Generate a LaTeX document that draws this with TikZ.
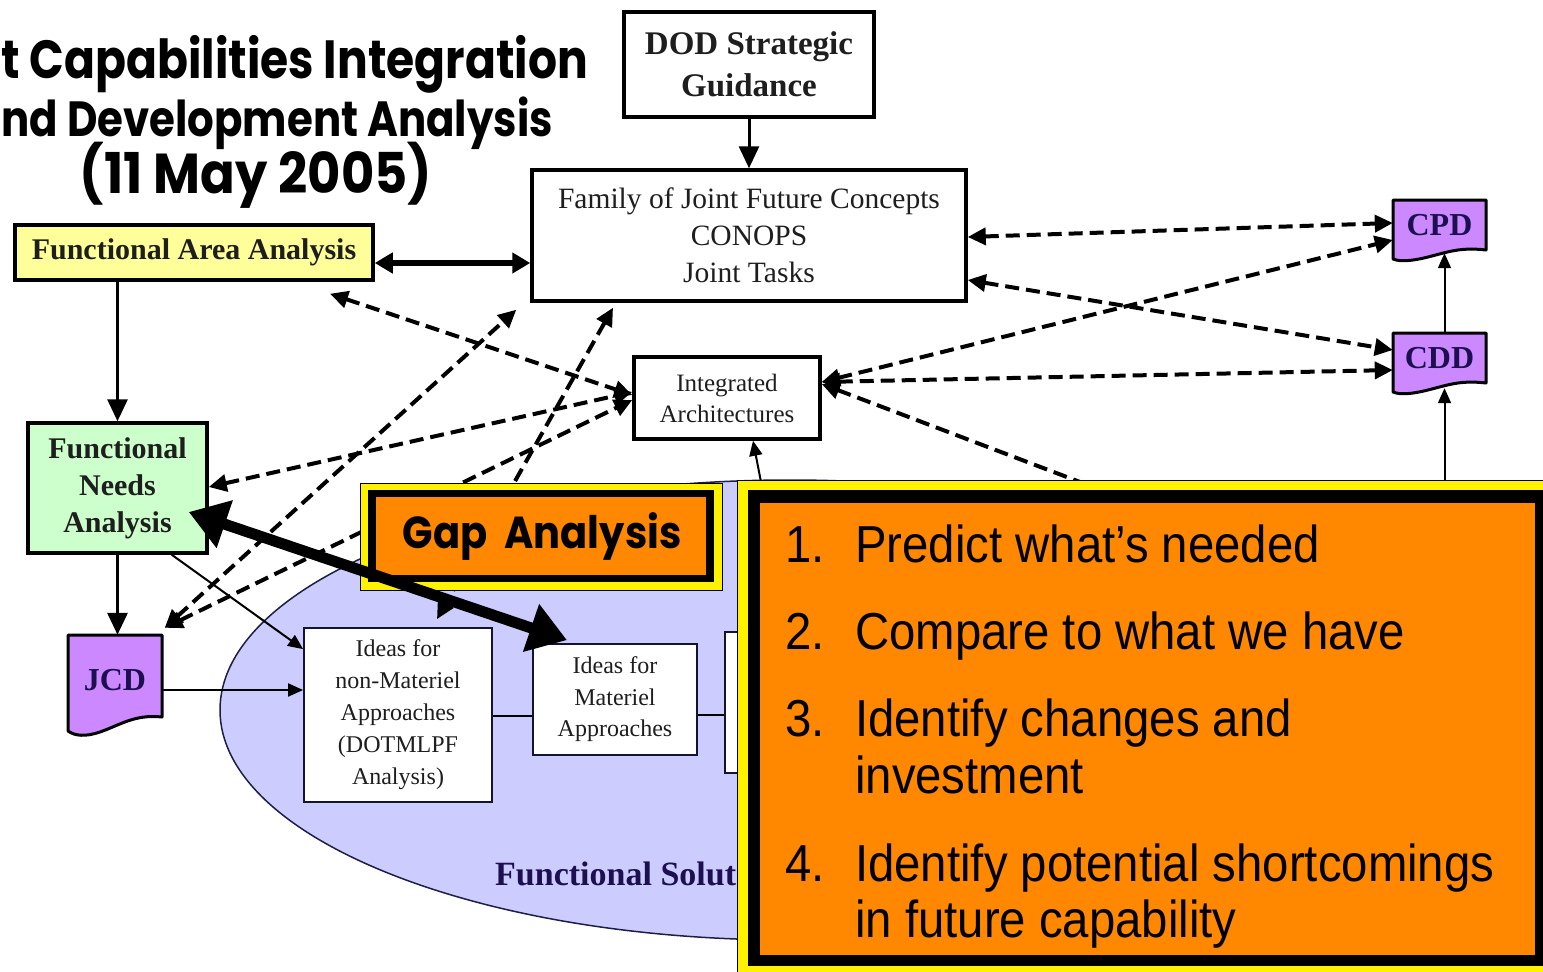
\documentclass[tikz,border=0pt]{standalone}
\usepackage{fontspec}
\setmainfont{Liberation Serif}
\newfontfamily\comic{Poppins}
\newfontfamily\narrow{Liberation Sans}[FakeStretch=0.91]
\usetikzlibrary{arrows.meta,calc}
\definecolor{faay}{RGB}{255,255,153}
\definecolor{fnag}{RGB}{204,255,204}
\definecolor{purp}{RGB}{204,136,255}
\definecolor{lav}{RGB}{204,204,255}
\definecolor{orng}{RGB}{255,136,0}
\definecolor{ink}{RGB}{30,30,30}
\definecolor{navy}{RGB}{28,16,80}
\tikzset{
 box/.style={draw=black, line width=3.5pt, fill=white, inner sep=0pt, align=center, text=ink},
 thinbox/.style={draw={rgb,255:red,20;green,20;blue,50}, line width=1.8pt, fill=white, inner sep=0pt, align=center, text=ink},
 doctext/.style={inner sep=0pt, text=navy, font=\bfseries\fontsize{32}{36}\selectfont},
 docshape/.style={fill=purp, draw=black, line width=3pt, line join=round},
 solidarrow/.style={line width=3pt, -{Triangle[length=22pt,width=20pt]}},
 thinarrow/.style={line width=2pt, -{Triangle[length=15pt,width=13pt]}},
 dasharrow/.style={line width=4pt, dash pattern=on 14pt off 7pt, {Triangle[length=18pt,width=17pt]}-{Triangle[length=18pt,width=17pt]}},
 dashone/.style={line width=4pt, dash pattern=on 14pt off 7pt, {Triangle[length=18pt,width=17pt]}-},
 bigtxt/.style={inner sep=0pt, text=black, font=\narrow\fontsize{52}{56}\selectfont},
 titletxt/.style={inner sep=0pt, text=black, font=\comic\bfseries},
}
\begin{document}
\begin{tikzpicture}[x=1pt,y=-1pt]
\path[use as bounding box] (0,0) rectangle (1543,972);
\clip (0,0) rectangle (1543,972);
\fill[white] (0,0) rectangle (1543,972);

% ellipse (functional solutions)
\draw[fill=lav, draw={rgb,255:red,30;green,30;blue,70}, line width=1.5pt] (790,710) ellipse [x radius=570, y radius=230];
\node[anchor=base west, inner sep=0pt, text=navy, font=\bfseries\fontsize{34}{38}\selectfont] (fsa) at (495,885) {Functional Solut};

% title
\node[titletxt, anchor=base east] (title1) at (588,78) {\resizebox{586pt}{!}{\scalebox{1}[1.18]{t Capabilities Integration}}};
\node[titletxt, anchor=base east] (title2) at (553,136) {\resizebox{551pt}{!}{\scalebox{1}[1.18]{nd Development Analysis}}};
\node[titletxt, anchor=base] (title3) at (256,193) {\resizebox{352pt}{!}{\scalebox{1}[1.1]{(11 May 2005)}}};

% boxes
\node[box, minimum width=250pt, minimum height=105pt, font=\bfseries\fontsize{33}{42}\selectfont] (dod) at (749,64.5) {DOD Strategic\\Guidance};
\node[box, minimum width=434pt, minimum height=131pt, font=\fontsize{29.5}{37}\selectfont] (fam) at (749,235.5) {Family of Joint Future Concepts\\CONOPS\\Joint Tasks};
\node[box, fill=faay, minimum width=358pt, minimum height=55pt, font=\bfseries\fontsize{30}{36}\selectfont] (faa) at (194,252.5) {Functional Area Analysis};
\node[box, fill=fnag, minimum width=179pt, minimum height=130pt, font=\bfseries\fontsize{30}{37}\selectfont] (fna) at (117.5,488) {Functional\\Needs\\Analysis};
\node[box, minimum width=186pt, minimum height=82pt, font=\fontsize{25}{31}\selectfont] (ia) at (727,398) {Integrated\\Architectures};
\node[thinbox, minimum width=188pt, minimum height=174pt, font=\fontsize{24}{32}\selectfont] (nonmat) at (398,715) {Ideas for\\non-Materiel\\Approaches\\(DOTMLPF\\Analysis)};
\node[thinbox, minimum width=164pt, minimum height=111pt, font=\fontsize{24}{31.5}\selectfont] (mat) at (615,699.5) {Ideas for\\Materiel\\Approaches};
\node[thinbox, minimum width=175pt, minimum height=141pt] (hid) at (812.5,702.5) {};

% document shapes
\path[docshape] (68,635) -- (162,635) -- (162,717) .. controls (135,714) and (120,725) .. (100,732) .. controls (85,737) and (75,736) .. (68,731) -- cycle;
\node[doctext, minimum width=93pt, minimum height=90pt] (jcd) at (115,680) {JCD};
\path[docshape] (1393,200) -- (1486,200) -- (1486,250) .. controls (1460,247) and (1448,252) .. (1428,257) .. controls (1412,261) and (1400,262) .. (1393,259) -- cycle;
\node[doctext, minimum width=93pt, minimum height=50pt] (cpd) at (1439.5,225) {CPD};
\path[docshape] (1393,333) -- (1486,333) -- (1486,383) .. controls (1460,380) and (1448,385) .. (1428,390) .. controls (1412,394) and (1400,395) .. (1393,392) -- cycle;
\node[doctext, minimum width=93pt, minimum height=50pt] (cdd) at (1439.5,358) {CDD};

% solid connectors
\draw[solidarrow] (dod) -- (fam);
\draw[line width=5.5pt, {Triangle[length=18pt,width=20pt]}-{Triangle[length=18pt,width=20pt]}] ([yshift=-10.5pt]faa.east) -- ([yshift=-10.5pt]faa.east -| fam.west);
\draw[solidarrow] (fna.north |- faa.south) -- (fna.north);
\draw[solidarrow] (fna.south) -- (fna.south |- jcd.north);
\draw[thinarrow] ([yshift=-10pt]jcd.east) -- ([yshift=-10pt]jcd.east -| nonmat.west);
\draw[thinarrow] ([xshift=-37pt]fna.south east) -- ([yshift=-22pt]nonmat.north west);
\draw[thinarrow] ([xshift=5pt]cdd.north) -- ([xshift=5pt,yshift=-3pt]cpd.south);
\coordinate (bb) at (1444.5,482);
\draw[thinarrow] (bb) -- ([xshift=5pt,yshift=-5pt]cdd.south);
\coordinate (ellip) at (761,482);
\draw[thinarrow] (ellip) -- ([xshift=26pt]ia.south);
\draw[line width=1.8pt] ([yshift=-1pt]nonmat.east) -- ([yshift=-1pt]nonmat.east -| mat.west);
\draw[line width=1.8pt] ([yshift=-15.5pt]mat.east) -- ([yshift=-15.5pt]mat.east -| hid.west);

% dashed connectors
\draw[dasharrow] ([yshift=-1.5pt]fam.east) -- ([yshift=2pt]cpd.west);
\draw[dasharrow] ([yshift=-44.5pt]fam.east) -- ([yshift=8pt]cdd.west);
\draw[dasharrow] ([yshift=16pt]ia.east) -- ([yshift=-15pt]cpd.west);
\draw[dasharrow] ([yshift=16pt]ia.east) -- ([yshift=-12pt]cdd.west);
\coordinate (iaend) at (1080,482);
\draw[dashone] ([yshift=14pt]ia.east) -- (iaend);
\draw[dasharrow] ([xshift=136pt,yshift=-12pt]faa.south) -- ([yshift=3pt]ia.west);
\draw[dasharrow] ([xshift=3pt,yshift=7pt]jcd.north east) -- ([xshift=-14pt,yshift=-7pt]fam.south west);
\draw[dasharrow] ([xshift=3pt,yshift=7pt]jcd.north east) -- ([yshift=-2pt]ia.west);
\draw[dasharrow] ([yshift=1pt]fna.east) -- ([yshift=6pt]ia.west);
\draw[dasharrow] ([xshift=-136pt,yshift=-5pt]fam.south) -- ([xshift=39pt,yshift=8pt]nonmat.north);

% gap analysis box
\fill[yellow, draw=black, line width=1pt] (360,483) rectangle (722,590);
\fill[black] (368,490) rectangle (714,582);
\fill[orng] (376,497) rectangle (706,575);
\node[inner sep=0pt, font=\comic\bfseries\fontsize{40}{42}\selectfont] (gap) at (542,537) {\scalebox{1}[1.12]{Gap~ Analysis}};

% thick double arrow
\draw[line width=11pt, {Triangle[length=38pt,width=48pt]}-{Triangle[length=38pt,width=48pt]}] ([xshift=-20pt,yshift=-24pt]fna.east) -- ([xshift=-48pt,yshift=3pt]mat.north);

% big box
\fill[yellow, draw=black, line width=1pt] (737,480) rectangle (1580,1000);
\fill[black] (748,490) rectangle (1580,966);
\fill[orng] (760,503) rectangle (1535,955);
\node[bigtxt, anchor=base west] (n1) at (785,562) {1.};
\node[bigtxt, anchor=base west] (t1) at (855,562) {Predict what’s needed};
\node[bigtxt, anchor=base west] (n2) at (785,649) {2.};
\node[bigtxt, anchor=base west] (t2) at (855,649) {Compare to what we have};
\node[bigtxt, anchor=base west] (n3) at (785,736) {3.};
\node[bigtxt, anchor=base west] (t3a) at (855,736) {Identify changes and};
\node[bigtxt, anchor=base west] (t3b) at (855,793) {investment};
\node[bigtxt, anchor=base west] (n4) at (785,881) {4.};
\node[bigtxt, anchor=base west] (t4a) at (855,881) {Identify potential shortcomings};
\node[bigtxt, anchor=base west] (t4b) at (855,937) {in future capability};
\end{tikzpicture}
\end{document}
